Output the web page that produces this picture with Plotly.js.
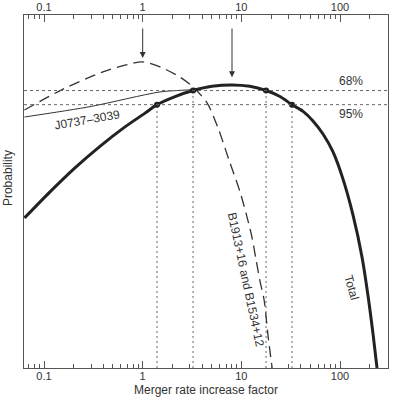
<!DOCTYPE html>
<html>
<head>
<meta charset="utf-8">
<script src="https://cdn.plot.ly/plotly-3.0.1.min.js"></script>
<style>
  html, body { margin: 0; padding: 0; background: white; }
  #chart { width: 397px; height: 403px; }
</style>
</head>
<body>
<div id="chart"></div>
<script>
// Merger rate increase factor vs probability

// Total
const totalX = [0.0634, 0.115, 0.206, 0.369, 0.662, 1.056, 1.397, 2.13, 3.24, 5.04, 8.04,
                12.2, 17.8, 24.6, 32.6, 42.2, 53.2, 67.2, 84.9, 107.2, 135.4, 167.1, 192.3, 216, 237];
const totalY = [0.425, 0.499, 0.567, 0.628, 0.683, 0.722, 0.746, 0.769, 0.786, 0.798, 0.802,
                0.798, 0.786, 0.769, 0.746, 0.727, 0.700, 0.663, 0.612, 0.535, 0.433, 0.314, 0.204, 0.096, 0.0];

// B1913+16 and B1534+12
const doubleX = [0.0634, 0.156, 0.396, 0.662, 1.008, 1.50, 2.39, 3.24, 4.49, 5.80, 7.50,
                 9.69, 11.4, 12.8, 14.1, 15.5, 17.0, 18.6, 20.5];
const doubleY = [0.731, 0.790, 0.839, 0.858, 0.867, 0.853, 0.824, 0.796, 0.751, 0.680, 0.589,
                 0.499, 0.428, 0.371, 0.306, 0.244, 0.193, 0.093, 0.0];

// J0737-3039
const j0737X = [0.0634, 0.30, 1.50, 3.24, 4.81, 5.5];
const j0737Y = [0.711, 0.741, 0.782, 0.789, 0.797, 0.799];

// confidence intervals
const levels = [0.786, 0.746];            // 68%, 95%
const levelLabels = ['68%', '95%'];
const ci68 = [3.24, 17.8];
const ci95 = [1.397, 32.6];

// peaks marked by arrows
const peakX = [1.0, 8.04];
const peakY = [0.878, 0.824];

const tickVals = [0.1, 1, 10, 100];
const tickText = ['0.1', '1', '10', '100'];

const font = 'Liberation Sans, Arial, sans-serif';
const xRange = [-1.2027, 2.486];

// vertical dotted lines from the dots down to the axis
const vx = [], vy = [];
[[ci68, levels[0]], [ci95, levels[1]]].forEach(([ci, lv]) => {
    ci.forEach(v => { vx.push(v, v, null); vy.push(0, lv, null); });
});

const traces = [
    {
        x: vx, y: vy, type: 'scatter', mode: 'lines',
        line: { color: '#666', width: 1, dash: '2px,3px' },
        hoverinfo: 'skip'
    },
    {
        x: doubleX, y: doubleY, type: 'scatter', mode: 'lines',
        line: { color: '#333', width: 1.3, dash: '11px,6px', shape: 'spline', smoothing: 0.8 }
    },
    {
        x: j0737X, y: j0737Y, type: 'scatter', mode: 'lines',
        line: { color: '#333', width: 1, shape: 'spline', smoothing: 0.8 }
    },
    {
        x: totalX, y: totalY, type: 'scatter', mode: 'lines',
        line: { color: '#222', width: 3, shape: 'spline', smoothing: 0.8 }
    },
    {
        x: [ci68[0], ci68[1], ci95[0], ci95[1]],
        y: [levels[0], levels[0], levels[1], levels[1]],
        type: 'scatter', mode: 'markers',
        marker: { color: '#222', size: 6 }
    },
    {
        x: [1], y: [0], xaxis: 'x2', type: 'scatter', mode: 'markers',
        marker: { opacity: 0 }, hoverinfo: 'skip'
    }
];

const axisBase = {
    type: 'log',
    range: xRange,
    tickvals: tickVals,
    ticktext: tickText,
    ticks: 'inside',
    ticklen: 7,
    tickcolor: '#555',
    showline: true,
    linecolor: '#555',
    linewidth: 1,
    showgrid: false,
    zeroline: false,
    tickfont: { family: font, size: 11, color: '#333' },
    minor: { dtick: 'D1', ticks: 'inside', ticklen: 4, tickcolor: '#555', showgrid: false }
};

const shapes = levels.map(lv => ({
    type: 'line', xref: 'paper', yref: 'y',
    x0: 0, x1: 1, y0: lv, y1: lv,
    line: { color: '#666', width: 1, dash: '3px,3px' }
}));

const textFont = { family: font, size: 12, color: '#333' };
const lx = v => Math.log10(v);

const annotations = [
    { x: lx(130), y: 0.813, text: levelLabels[0] },
    { x: lx(130), y: 0.720, text: levelLabels[1] },
    { x: lx(0.27), y: 0.703, text: 'J0737\u20133039', textangle: -10 },
    { x: lx(11.1), y: 0.249, text: 'B1913+16 and B1534+12', textangle: 78 },
    { x: lx(130), y: 0.229, text: 'Total', textangle: 74 }
].map(a => ({ ...a, xref: 'x', yref: 'y', showarrow: false, font: textFont }));

peakX.forEach((px, i) => {
    annotations.push({
        x: lx(px), y: peakY[i], xref: 'x', yref: 'y',
        ax: lx(px), ay: 0.966, axref: 'x', ayref: 'y',
        text: '', showarrow: true, arrowhead: 2, arrowsize: 1.2,
        arrowwidth: 1, arrowcolor: '#333'
    });
});

annotations.push({
    xref: 'paper', yref: 'paper', x: -0.044, y: 0.538,
    xanchor: 'center', yanchor: 'middle',
    text: 'Probability', textangle: -90, showarrow: false, font: textFont
});

const layout = {
    width: 397,
    height: 403,
    margin: { l: 24, r: 9, t: 15, b: 35 },
    paper_bgcolor: 'white',
    plot_bgcolor: 'white',
    showlegend: false,
    font: { family: font },
    xaxis: {
        ...axisBase,
        ticklabelstandoff: -2,
        title: { text: 'Merger rate increase factor', font: textFont, standoff: 4 }
    },
    xaxis2: {
        ...axisBase,
        ticklabelstandoff: -1,
        overlaying: 'x',
        side: 'top',
        anchor: 'y'
    },
    yaxis: {
        range: [0, 1],
        showticklabels: false,
        ticks: '',
        showline: true,
        mirror: true,
        linecolor: '#555',
        linewidth: 1,
        showgrid: false,
        zeroline: false
    },
    shapes: shapes,
    annotations: annotations
};

Plotly.newPlot('chart', traces, layout, { staticPlot: true });
</script>
</body>
</html>
